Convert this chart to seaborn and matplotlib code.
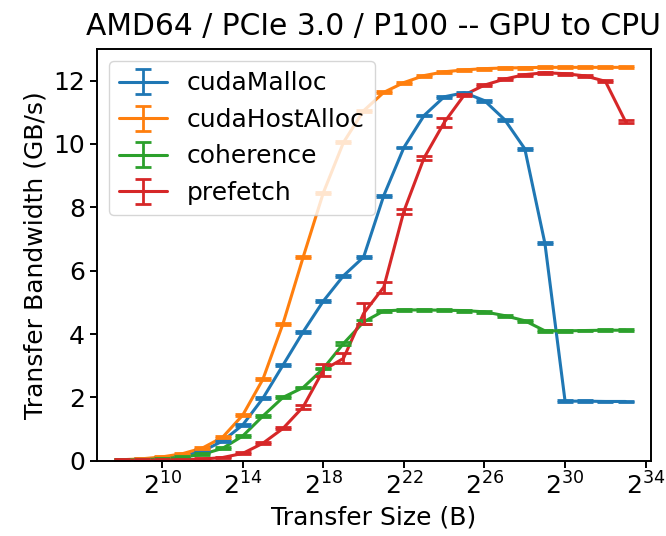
import matplotlib as mpl

mpl.use('Agg')
import numpy as np
import pandas as pd
import matplotlib.pyplot as plt
import seaborn as sns
from matplotlib.container import ErrorbarContainer
from matplotlib.ticker import NullLocator

# transfer sizes are 2^8 .. 2^33 bytes
exponents = list(range(8, 34))

cuda_malloc = [0.02, 0.04, 0.08, 0.15, 0.30, 0.62, 1.13, 1.97, 3.02, 4.07,
               5.04, 5.84, 6.43, 8.37, 9.89, 10.90, 11.49, 11.62, 11.37, 10.77,
               9.85, 6.86, 1.88, 1.88, 1.87, 1.87]
cuda_host_alloc = [0.03, 0.06, 0.12, 0.22, 0.40, 0.74, 1.44, 2.57, 4.33, 6.43,
                   8.46, 10.05, 11.05, 11.63, 11.94, 12.16, 12.28, 12.34, 12.38, 12.40,
                   12.41, 12.42, 12.42, 12.42, 12.42, 12.42]
coherence = [0.02, 0.03, 0.06, 0.11, 0.20, 0.39, 0.78, 1.41, 2.00, 2.31,
             2.91, 3.70, 4.38, 4.73, 4.76, 4.76, 4.75, 4.74, 4.70, 4.58,
             4.42, 4.10, 4.10, 4.11, 4.12, 4.12]
prefetch = [0.01, 0.01, 0.02, 0.03, 0.05, 0.10, 0.23, 0.55, 1.02, 1.70,
            2.86, 3.23, 4.65, 5.48, 7.88, 9.56, 10.68, 11.55, 11.86, 12.05,
            12.19, 12.25, 12.22, 12.15, 11.98, 10.71]

cuda_malloc_err = [0.03] * 26
cuda_host_alloc_err = [0.03] * 26
coherence_err = [0.03] * 11 + [0.06, 0.06] + [0.03] * 13
prefetch_err = [0.03] * 9 + [0.06, 0.18, 0.16, 0.32, 0.17, 0.08, 0.05, 0.14] + [0.03] * 8 + [0.04]

names = ['cudaMalloc', 'cudaHostAlloc', 'coherence', 'prefetch']

sns.set_theme(style='ticks', rc={
    'axes.edgecolor': 'black',
    'axes.linewidth': 1.4,
    'xtick.color': 'black',
    'ytick.color': 'black',
    'xtick.major.width': 1.4,
    'ytick.major.width': 1.4,
    'xtick.major.size': 5,
    'ytick.major.size': 5,
    'text.color': 'black',
    'axes.labelcolor': 'black',
})
colors = sns.color_palette('tab10', 4)

sizes = [2 ** e for e in exponents]
df = pd.DataFrame({
    'size': sizes * 4,
    'bw': cuda_malloc + cuda_host_alloc + coherence + prefetch,
    'err': cuda_malloc_err + cuda_host_alloc_err + coherence_err + prefetch_err,
    'method': np.repeat(names, len(sizes)),
})

fig = plt.figure(figsize=(6.66, 5.36), dpi=100)
ax = fig.add_axes([0.1452, 0.1405, 0.8318, 0.7681])

sns.lineplot(data=df, x='size', y='bw', hue='method', hue_order=names,
             palette=colors, linewidth=2.2, legend=False, ax=ax)

handles = []
for name, c, line in zip(names, colors, ax.get_lines()):
    sub = df[df.method == name]
    eb = ax.errorbar(sub['size'], sub['bw'], yerr=sub['err'], fmt='none',
                     ecolor=c, elinewidth=2.0, capsize=6, capthick=2.0)
    # legend handle: seaborn line + the error bar pieces
    handles.append(ErrorbarContainer((line, eb.lines[1], eb.lines[2]),
                                     has_xerr=False, has_yerr=True))

ax.set_xscale('log', base=2)
ax.set_xticks([2 ** k for k in range(10, 35, 4)])
ax.xaxis.set_minor_locator(NullLocator())
ax.set_yticks(range(0, 13, 2))
ax.set_ylim(0, 13)
ax.tick_params(labelsize=18)

ax.set_xlabel('Transfer Size (B)', fontsize=18)
ax.set_ylabel('Transfer Bandwidth (GB/s)', fontsize=18)
ax.set_title('AMD64 / PCIe 3.0 / P100 -- GPU to CPU', fontsize=21.4, pad=10)

ax.legend(handles, names, loc='upper left', fontsize=18, frameon=True,
          framealpha=0.8, edgecolor='0.8', fancybox=True, labelspacing=0.5,
          handlelength=1.9)

plt.savefig('out.png', dpi=100)
